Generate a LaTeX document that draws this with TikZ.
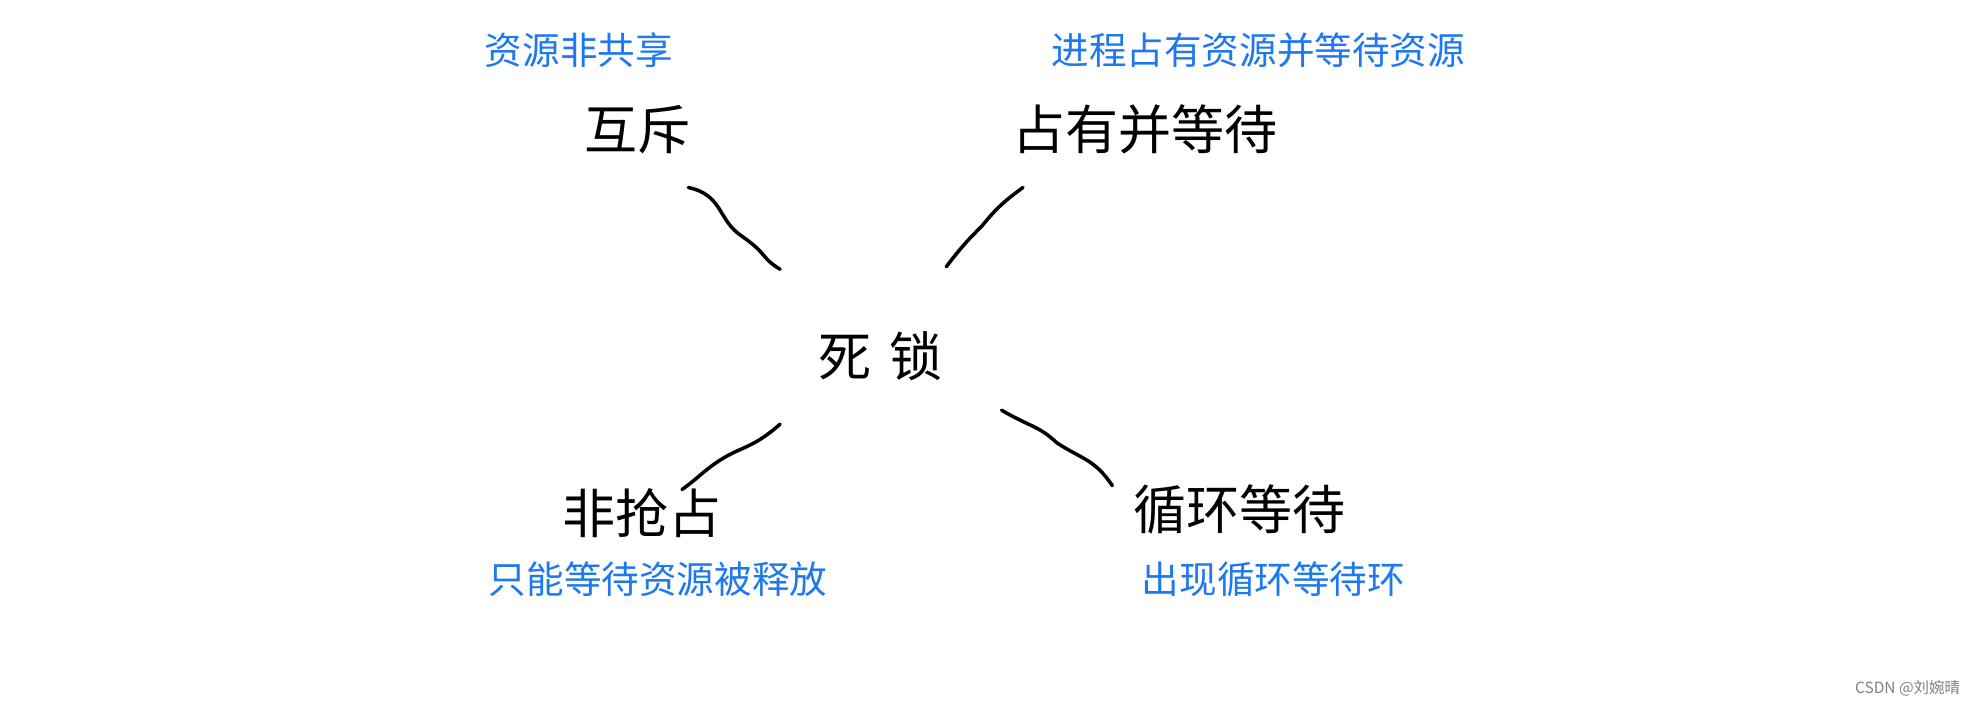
\documentclass[tikz,border=0pt]{standalone}
\usepackage{fontspec}
\newfontfamily\cjk{Noto Sans CJK SC}
\definecolor{hblue}{HTML}{1E78F0}
\begin{document}
\begin{tikzpicture}[x=0.02cm,y=-0.02cm,
  big/.style={font=\cjk\fontsize{24}{28}\selectfont, text=black},
  note/.style={font=\cjk\fontsize{17}{20}\selectfont, text=hblue},
  wm/.style={font=\cjk\fontsize{7}{8}\selectfont, text=gray},
  link/.style={line width=1.6pt, line cap=round}]
\useasboundingbox (0,0) rectangle (1568,561);
\node[big] (c) at (700,283) {死\,\,锁};
\node[big] (a) at (507,103) {互斥};
\node[note] (an) at (460,40) {资源非共享};
\node[big] (b) at (910,103) {占有并等待};
\node[note] (bn) at (1000,40) {进程占有资源并等待资源};
\node[big] (d) at (510,408) {非抢占};
\node[note] (dn) at (523,460) {只能等待资源被释放};
\node[big] (e) at (985,405) {循环等待};
\node[note] (en) at (1012,460) {出现循环等待环};
\node[wm] (w) at (1516,547) {CSDN @刘婉晴};
\coordinate (a1) at (547,149); \coordinate (a2) at (620,214);
\coordinate (b1) at (813,149); \coordinate (b2) at (752,212);
\coordinate (d1) at (620,337); \coordinate (d2) at (542,389);
\coordinate (e1) at (796,326); \coordinate (e2) at (884,386);
\draw[link] (a1) .. controls (575,155) and (570,175) .. (590,188) .. controls (610,202) and (605,205) .. (a2);
\draw[link] (b1) .. controls (795,162) and (790,168) .. (780,180) .. controls (770,190) and (765,195) .. (b2);
\draw[link] (d1) .. controls (600,355) and (590,355) .. (575,364) .. controls (560,373) and (555,380) .. (d2);
\draw[link] (e1) .. controls (820,340) and (825,338) .. (840,352) .. controls (860,365) and (870,365) .. (e2);
\end{tikzpicture}
\end{document}
